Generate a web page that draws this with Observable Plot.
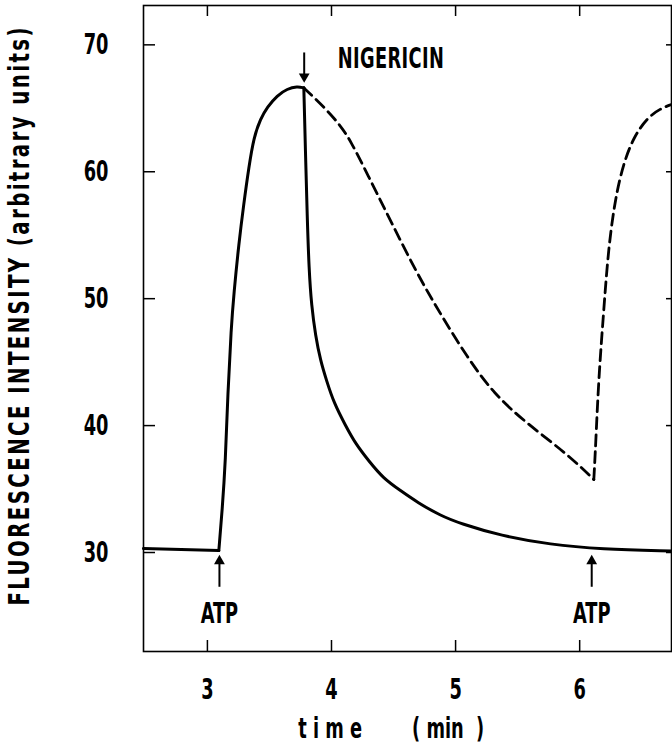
<!DOCTYPE html>
<html><head><meta charset="utf-8">
<script src="https://cdn.jsdelivr.net/npm/d3@7"></script>
<script src="https://cdn.jsdelivr.net/npm/@observablehq/plot@0.6"></script>
<style>
body{margin:0;background:#fff;}
#chart svg{display:block;}
</style></head><body><div id="chart"></div>
<script>
// ---- data ----
// solid trace (nigericin-induced drop after the peak)
const solidTime  = [2.485, 3.092, 3.119, 3.146, 3.164, 3.192, 3.213, 3.253, 3.293, 3.334, 3.374, 3.428, 3.482, 3.562, 3.643, 3.724, 3.777,
                    3.790, 3.804, 3.819, 3.839, 3.871, 3.911, 3.960, 4.018, 4.113, 4.193, 4.298, 4.419, 4.556, 4.693, 4.878, 5.039, 5.362, 5.765, 6.168, 6.740];
const solidValue = [30.31, 30.15, 33.30, 37.24, 42.50, 47.75, 50.38, 54.32, 57.47, 60.36, 62.72, 64.17, 65.09, 66.01, 66.54, 66.72, 66.61,
                    61.67, 56.55, 52.22, 49.46, 47.10, 45.13, 43.55, 41.82, 40.00, 38.58, 37.24, 35.82, 34.88, 33.94, 32.91, 32.28, 31.33, 30.62, 30.27, 30.11];
const solidCorners = [3.092, 3.777];
// dashed trace (slow decay, then second ATP addition)
const dashedTime  = [3.777, 3.857, 3.965, 4.072, 4.153, 4.288, 4.475, 4.690, 4.878, 5.093, 5.308, 5.577, 5.899, 6.114,
                     6.128, 6.152, 6.192, 6.232, 6.288, 6.353, 6.433, 6.546, 6.651, 6.740];
const dashedValue = [66.61, 65.87, 64.83, 63.64, 62.46, 59.84, 56.16, 51.96, 48.80, 45.39, 42.50, 40.14, 37.77, 35.75,
                     38.27, 43.55, 48.83, 54.03, 57.97, 60.65, 62.70, 64.27, 64.98, 65.30];
const dashedCorners = [6.114];
const xTicks = [3, 4, 5, 6];
const yTicks = [30, 40, 50, 60, 70];
const atpTimes = [3.097, 6.097];
const atpLabel = "ATP";
const nigericinTime = 3.78;
const nigericinLabel = "NIGERICIN";
const yLabel = "FLUORESCENCE INTENSITY (arbitrary units)";
const xLabelParts = ["t i m e", "( min  )"];

// ---- tables built from the arrays ----
function segments(ts, vs, corners) {
  const rows = [];
  ts.forEach((t, i) => {
    const s = corners.filter(c => t > c + 1e-9).length;
    rows.push({t, v: vs[i], seg: s});
    if (corners.some(c => Math.abs(c - t) < 1e-9)) rows.push({t, v: vs[i], seg: s + 1});
  });
  return rows;
}
const solid = segments(solidTime, solidValue, solidCorners);
const dashed = segments(dashedTime, dashedValue, dashedCorners);
const atp = atpTimes.map(t => ({t}));
const nig = [{t: nigericinTime}];

const fontFamily = "'Liberation Sans Narrow', 'Arial Narrow', 'DejaVu Sans Condensed', sans-serif";

const plot = Plot.plot({
  width: 672, height: 751,
  marginLeft: 143, marginRight: 1, marginTop: 5, marginBottom: 100,
  style: {fontFamily, fontWeight: "bold", fontSize: "22px", background: "#fff", color: "#000"},
  x: {domain: [2.485, 6.74]},
  y: {domain: [22.2, 73.1]},
  marks: [
    Plot.frame({strokeWidth: 1.6}),
    Plot.axisX(xTicks, {anchor: "bottom", tickSize: -11, tickPadding: 38, tickFormat: d => String(d), label: null, strokeWidth: 1.5}),
    Plot.axisX(xTicks, {anchor: "top", tickSize: -10, fill: "none", label: null, strokeWidth: 1.5}),
    Plot.axisY(yTicks, {anchor: "left", tickSize: -12, tickPadding: 47, tickFormat: d => String(d), label: null, strokeWidth: 1.5}),
    Plot.axisY(yTicks, {anchor: "right", tickSize: -6, fill: "none", label: null, strokeWidth: 1.5}),
    Plot.line(solid, {x: "t", y: "v", z: "seg", curve: "basis", strokeWidth: 3}),
    Plot.line(dashed, {x: "t", y: "v", z: "seg", curve: "basis", strokeWidth: 2.8, strokeDasharray: "11,6"}),
    // ATP arrows
    Plot.link(atp, {x1: "t", x2: "t", y1: 27.3, y2: 29.4, strokeWidth: 2}),
    Plot.dot(atp, {x: "t", y: 29.8, symbol: "triangle", r: 4, fill: "black", stroke: null, dy: 6}),
    Plot.text(atp, {x: "t", y: 25.15, text: () => atpLabel, fontSize: 22, fontWeight: "bold"}),
    // Nigericin arrow
    Plot.link(nig, {x1: "t", x2: "t", y1: 69.4, y2: 67.4, strokeWidth: 2}),
    Plot.dot(nig, {x: "t", y: 67.03, symbol: "triangle", r: 4, fill: "black", stroke: null, rotate: 180, dy: -6}),
    Plot.text(nig, {x: 4.05, y: 68.92, text: () => nigericinLabel, textAnchor: "start", fontSize: 22, fontWeight: "bold"}),
    // axis titles
    Plot.text([yLabel], {frameAnchor: "left", dx: -123, y: 25.82, rotate: -90, text: d => d, textAnchor: "start", fontSize: 22, fontWeight: "bold"}),
    Plot.text(xLabelParts, {x: (d, i) => [3.99, 4.94][i], frameAnchor: "bottom", dy: 86, text: d => d, fontSize: 22, fontWeight: "bold"})
  ]
});

document.getElementById("chart").append(plot);

// tall, condensed lettering as in the original figure
d3.select(plot).selectAll("text").each(function() {
  const content = this.textContent;
  const t = this.getAttribute("transform") || "";
  if (content === yLabel) {
    this.setAttribute("transform", t + " scale(1,1.25)");
    this.setAttribute("textLength", 578);
    this.setAttribute("lengthAdjust", "spacing");
  } else {
    this.setAttribute("transform", t + " scale(0.9,1.3)");
    if (content === nigericinLabel) {
      this.setAttribute("textLength", 118);
      this.setAttribute("lengthAdjust", "spacing");
    }
  }
});
</script></body></html>
